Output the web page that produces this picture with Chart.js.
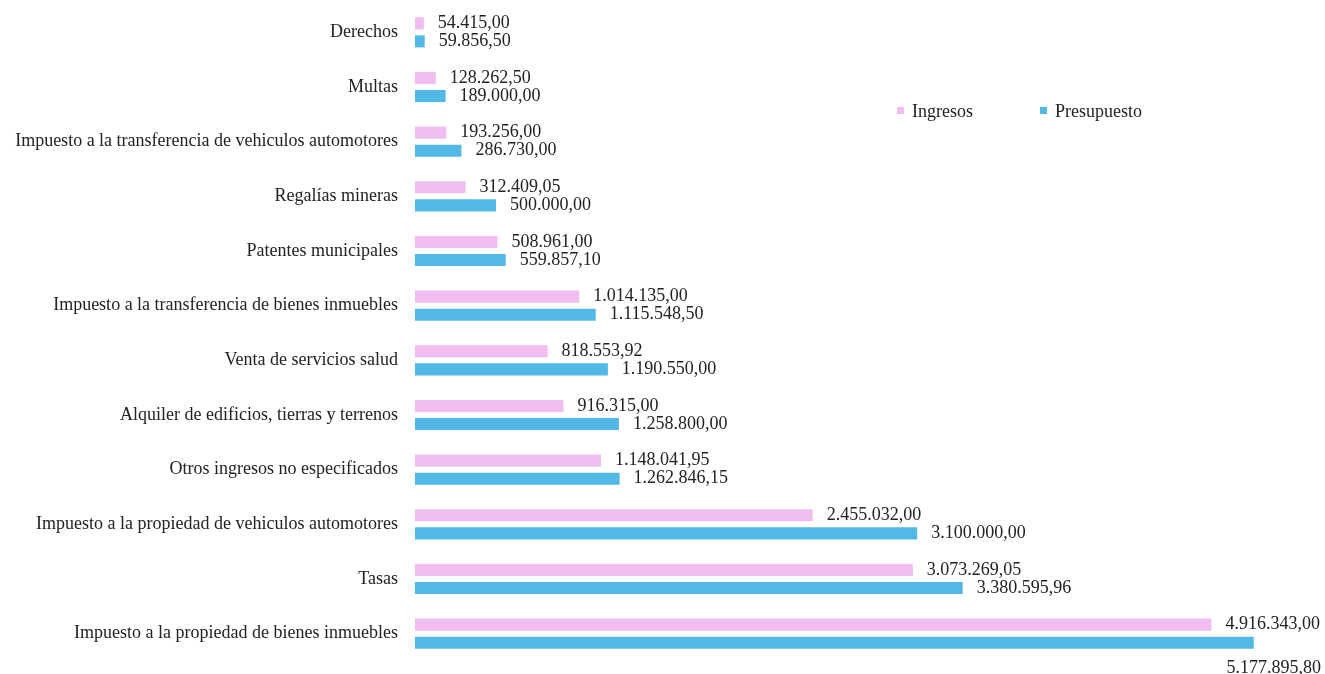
<!DOCTYPE html>
<html>
<head>
<meta charset="utf-8">
<script src="https://cdn.jsdelivr.net/npm/chart.js@4"></script>
<style>
  html, body { margin: 0; padding: 0; background: #fff; }
  #wrap { position: relative; width: 1325px; height: 674px; }
  #legend { position: absolute; left: 897px; top: 101px; font-family: "Liberation Serif", "DejaVu Serif", serif; font-size: 18px; color: #222; }
  #legend span.item { position: absolute; white-space: nowrap; }
  #legend i { display: inline-block; width: 7px; height: 7px; margin-right: 8px; vertical-align: 3px; }
</style>
</head>
<body>
<div id="wrap">
  <canvas id="ingresosChart" width="1325" height="674"></canvas>
  <div id="legend"></div>
</div>
<script>
const categories = [
  'Derechos',
  'Multas',
  'Impuesto a la transferencia de vehiculos automotores',
  'Regalías mineras',
  'Patentes municipales',
  'Impuesto a la transferencia de bienes inmuebles',
  'Venta de servicios salud',
  'Alquiler de edificios, tierras y terrenos',
  'Otros ingresos no especificados',
  'Impuesto a la propiedad de vehiculos automotores',
  'Tasas',
  'Impuesto a la propiedad de bienes inmuebles'
]
const ingresos = [54415.00, 128262.50, 193256.00, 312409.05, 508961.00, 1014135.00,
  818553.92, 916315.00, 1148041.95, 2455032.00, 3073269.05, 4916343.00]
const presupuesto = [59856.50, 189000.00, 286730.00, 500000.00, 559857.10, 1115548.50,
  1190550.00, 1258800.00, 1262846.15, 3100000.00, 3380595.96, 5177895.80]

const pink = '#f1bdf0'
const blue = '#52b9e6'
const font = '"Liberation Serif", "DejaVu Serif", serif'

// 1234567.8 -> "1.234.567,80"
function fmt(v) {
  const parts = v.toFixed(2).split('.')
  return parts[0].replace(/\B(?=(\d{3})+(?!\d))/g, '.') + ',' + parts[1]
}

const valueLabels = {
  id: 'valueLabels',
  afterDatasetsDraw(chart) {
    const ctx = chart.ctx
    ctx.save()
    ctx.font = '18px ' + font
    ctx.fillStyle = '#222'
    ctx.textBaseline = 'middle'
    chart.data.datasets.forEach((ds, i) => {
      chart.getDatasetMeta(i).data.forEach((bar, j) => {
        const txt = fmt(ds.data[j])
        const w = ctx.measureText(txt).width
        if (bar.x + 14 + w > chart.width) {
          // no room on the right: put it under the bar
          ctx.textAlign = 'right'
          ctx.fillText(txt, chart.width - 4, bar.y + 26)
        } else {
          ctx.textAlign = 'left'
          ctx.fillText(txt, bar.x + 14, bar.y)
        }
      })
    })
    ctx.restore()
  }
}

const chart = new Chart(document.getElementById('ingresosChart'), {
  type: 'bar',
  data: {
    labels: categories,
    datasets: [
      { label: 'Ingresos', data: ingresos, backgroundColor: pink, categoryPercentage: 0.66, barPercentage: 0.67 },
      { label: 'Presupuesto', data: presupuesto, backgroundColor: blue, categoryPercentage: 0.66, barPercentage: 0.67 }
    ]
  },
  options: {
    indexAxis: 'y',
    responsive: false,
    animation: false,
    layout: { padding: { top: 5, bottom: 13, right: 19, left: 0 } },
    plugins: {
      legend: { display: false },
      tooltip: { enabled: false }
    },
    scales: {
      x: {
        display: false,
        min: 0,
        max: 5500000
      },
      y: {
        grid: { display: false, drawTicks: false },
        border: { display: false },
        ticks: {
          padding: 17,
          color: '#222',
          font: { family: font, size: 18 }
        },
        afterFit(scale) {
          scale.width = 415
          scale.paddingTop = 0
          scale.paddingBottom = 0
        }
      }
    }
  },
  plugins: [valueLabels]
})

// legend
const legend = document.getElementById('legend')
const offsets = [0, 143]
chart.data.datasets.forEach((ds, i) => {
  const item = document.createElement('span')
  item.className = 'item'
  item.style.left = offsets[i] + 'px'
  item.innerHTML = '<i style="background:' + ds.backgroundColor + '"></i>' + ds.label
  legend.appendChild(item)
})
</script>
</body>
</html>
